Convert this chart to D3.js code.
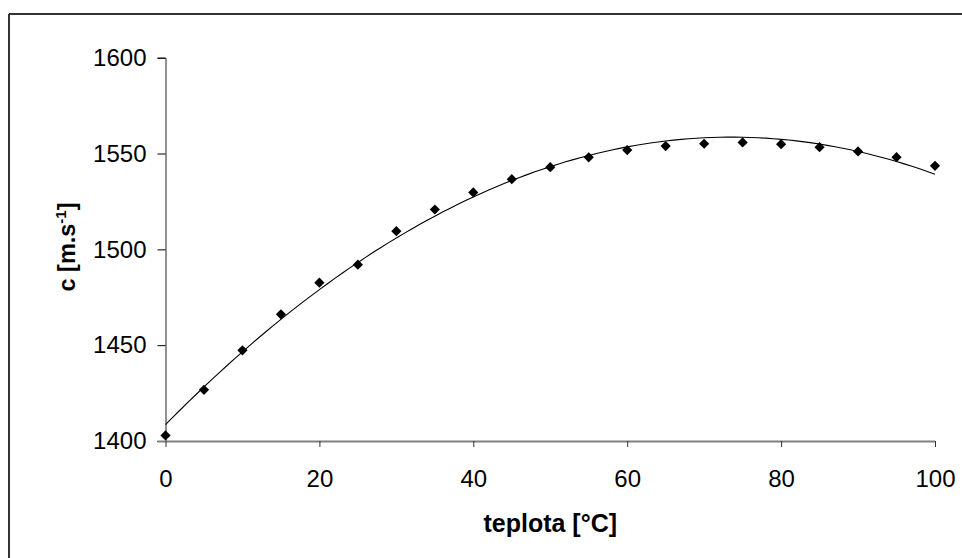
<!DOCTYPE html>
<html>
<head>
<meta charset="utf-8">
<script src="https://cdn.jsdelivr.net/npm/d3@7/dist/d3.min.js"></script>
<style>
  html, body { margin: 0; padding: 0; background: #fff; }
  svg { display: block; }
  text { font-family: "Liberation Sans", Arial, sans-serif; fill: #000; }
</style>
</head>
<body>
<svg id="chart" width="962" height="558"></svg>
<script>
// ---- data ----
const temperatures = [0, 5, 10, 15, 20, 25, 30, 35, 40, 45, 50, 55, 60, 65, 70, 75, 80, 85, 90, 95, 100];
const speeds = [1402.9, 1426.7, 1447.3, 1466.1, 1482.6, 1492.0, 1509.5, 1520.8, 1529.7, 1536.6, 1542.9,
                1548.0, 1551.8, 1553.9, 1555.1, 1555.8, 1554.9, 1553.3, 1551.1, 1548.1, 1543.6];
const xTicks = [0, 20, 40, 60, 80, 100];
const yTicks = [1400, 1450, 1500, 1550, 1600];
const xTitle = "teplota [°C]";

const svg = d3.select("#chart");
const W = 962, H = 558;

const x = d3.scaleLinear().domain([0, 100]).range([165.5, 935]);
const y = d3.scaleLinear().domain([1400, 1600]).range([441, 57.7]);

// outer frame (top and left edges visible)
svg.append("line").attr("x1", 9).attr("x2", W).attr("y1", 14).attr("y2", 14)
  .attr("stroke", "#333").attr("stroke-width", 2);
svg.append("line").attr("x1", 9).attr("x2", 9).attr("y1", 14).attr("y2", H)
  .attr("stroke", "#333").attr("stroke-width", 2);

// y axis
const yAxis = svg.append("g").attr("transform", `translate(${x(0)},0)`)
  .call(d3.axisLeft(y).tickValues(yTicks).tickSize(8).tickPadding(11).tickFormat(d3.format("d")));
yAxis.select(".domain").attr("stroke", "#222").attr("stroke-width", 1);
yAxis.selectAll(".tick line").attr("stroke", "#000");
yAxis.selectAll(".tick text").attr("font-size", 24).attr("font-family", "Liberation Sans, Arial, sans-serif").attr("fill", "#000");

// x axis
const xAxis = svg.append("g").attr("transform", `translate(0,${y(1400)})`)
  .call(d3.axisBottom(x).tickValues(xTicks).tickSize(6).tickSizeOuter(0).tickPadding(22.5).tickFormat(d3.format("d")));
xAxis.select(".domain").attr("stroke", "#808080").attr("stroke-width", 2)
  .attr("d", `M${x(0) - 8},0.5H${x(100)}`);
xAxis.selectAll(".tick line").attr("stroke", "#333");
xAxis.selectAll(".tick text").attr("font-size", 24).attr("font-family", "Liberation Sans, Arial, sans-serif").attr("fill", "#000");

// polynomial (order 2) least-squares trendline from data
function polyFit2(xs, ys) {
  let n = xs.length, s = [0,0,0,0,0], t = [0,0,0];
  for (let i = 0; i < n; i++) {
    let p = 1;
    for (let k = 0; k < 5; k++) { s[k] += p; if (k < 3) t[k] += p * ys[i]; p *= xs[i]; }
  }
  const A = [[s[0], s[1], s[2], t[0]], [s[1], s[2], s[3], t[1]], [s[2], s[3], s[4], t[2]]];
  for (let i = 0; i < 3; i++) {
    for (let j = i + 1; j < 3; j++) {
      const f = A[j][i] / A[i][i];
      for (let k = i; k < 4; k++) A[j][k] -= f * A[i][k];
    }
  }
  const c = [0,0,0];
  for (let i = 2; i >= 0; i--) {
    let v = A[i][3];
    for (let k = i + 1; k < 3; k++) v -= A[i][k] * c[k];
    c[i] = v / A[i][i];
  }
  return c;
}
const coef = polyFit2(temperatures, speeds);
const trendX = d3.range(0, 100.01, 1);
const line = d3.line().x(d => x(d)).y(d => y(coef[0] + coef[1] * d + coef[2] * d * d));
svg.append("path").datum(trendX).attr("d", line)
  .attr("fill", "none").attr("stroke", "#000").attr("stroke-width", 1.1);

// data points (diamonds)
svg.append("g").selectAll("path").data(temperatures).join("path")
  .attr("transform", (d, i) => `translate(${x(d)},${y(speeds[i])}) rotate(45)`)
  .attr("d", d3.symbol().type(d3.symbolSquare).size(52)())
  .attr("fill", "#000");

// axis titles
svg.append("text").attr("x", x(50)).attr("y", 532).attr("text-anchor", "middle")
  .attr("font-size", 25).attr("font-weight", "bold").text(xTitle);

const yt = svg.append("text").attr("transform", "translate(75,247) rotate(-90)")
  .attr("text-anchor", "middle").attr("font-size", 23.5).attr("font-weight", "bold");
yt.append("tspan").text("c [m.s");
yt.append("tspan").attr("font-size", 15).attr("dy", -9).text("-1");
yt.append("tspan").attr("dy", 9).text("]");
</script>
</body>
</html>
